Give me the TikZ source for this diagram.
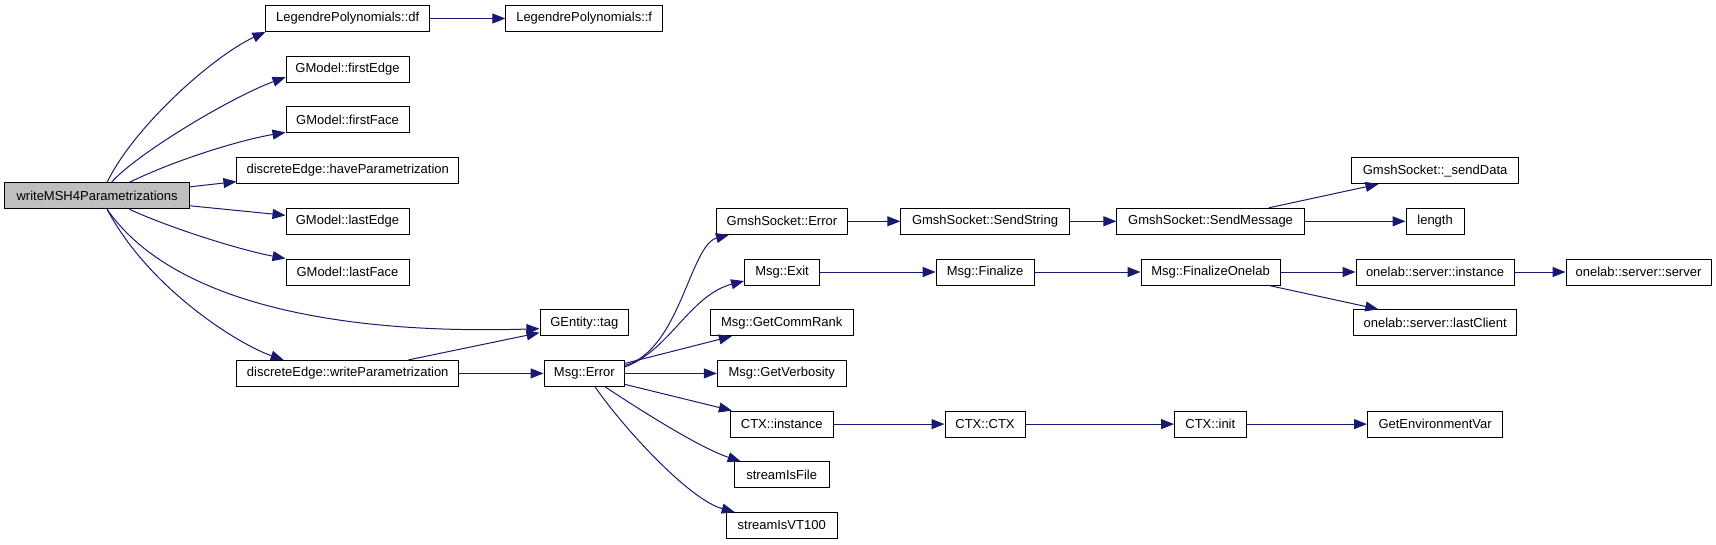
\documentclass[tikz,border=0pt]{standalone}
\usepackage{fontspec}
\setmainfont{Liberation Sans}
\usetikzlibrary{arrows.meta}
\definecolor{edgeblue}{HTML}{191970}
\definecolor{rootgray}{HTML}{BFBFBF}
\tikzset{
  fn/.style={draw=black, line width=1pt, rectangle, inner sep=0pt, minimum height=26pt, font=\fontsize{13}{16}\selectfont, text=black},
  rootfn/.style={fn, fill=rootgray},
  call/.style={draw=edgeblue, line width=1pt, -{Triangle[length=13pt,width=10pt]}}
}
\begin{document}
\begin{tikzpicture}[x=1pt,y=-1pt]
\useasboundingbox (0,0) rectangle (1716,544);
% nodes
\node[rootfn, minimum width=185pt] (root) at (97.1,195.8) {writeMSH4Parametrizations};
\node[fn, minimum width=163.5pt] (ldf) at (347.7,18.5) {LegendrePolynomials::df};
\node[fn, minimum width=156.7pt] (lf) at (584.2,18.5) {LegendrePolynomials::f};
\node[fn, minimum width=123pt] (fE) at (347.5,69.2) {GModel::firstEdge};
\node[fn, minimum width=123pt] (fF) at (347.5,119.9) {GModel::firstFace};
\node[fn, minimum width=221.5pt] (hP) at (347.7,170.6) {discreteEdge::haveParametrization};
\node[fn, minimum width=123pt] (lE) at (347.5,221.3) {GModel::lastEdge};
\node[fn, minimum width=123pt] (lF) at (347.5,272) {GModel::lastFace};
\node[fn, minimum width=88.6pt] (tag) at (584.3,322.7) {GEntity::tag};
\node[fn, minimum width=221.5pt] (wP) at (347.7,373.4) {discreteEdge::writeParametrization};
\node[fn, minimum width=80.5pt] (err) at (584.3,373.4) {Msg::Error};
\node[fn, minimum width=130.8pt] (gsErr) at (781.9,221.3) {GmshSocket::Error};
\node[fn, minimum width=168.3pt] (gsSS) at (985,221.3) {GmshSocket::SendString};
\node[fn, minimum width=75pt] (exit) at (782.1,272) {Msg::Exit};
\node[fn, minimum width=97.8pt] (fin) at (985.1,272) {Msg::Finalize};
\node[fn, minimum width=142.7pt] (gcr) at (781.7,322.7) {Msg::GetCommRank};
\node[fn, minimum width=128.6pt] (gv) at (781.7,373.4) {Msg::GetVerbosity};
\node[fn, minimum width=102.6pt] (ctxi) at (781.7,424.1) {CTX::instance};
\node[fn, minimum width=80pt] (ctx) at (985,424.1) {CTX::CTX};
\node[fn, minimum width=94.6pt] (sif) at (781.7,474.8) {streamIsFile};
\node[fn, minimum width=110.7pt] (vt) at (781.7,525.5) {streamIsVT100};
\node[fn, minimum width=167.4pt] (sd) at (1435.1,170.6) {GmshSocket::\_sendData};
\node[fn, minimum width=187.4pt] (sm) at (1210.6,221.3) {GmshSocket::SendMessage};
\node[fn, minimum width=58.2pt] (len) at (1435.1,221.3) {length};
\node[fn, minimum width=139pt] (fo) at (1210.5,272) {Msg::FinalizeOnelab};
\node[fn, minimum width=158pt] (osi) at (1435,272) {onelab::server::instance};
\node[fn, minimum width=145pt] (oss) at (1638.5,272) {onelab::server::server};
\node[fn, minimum width=162.7pt] (olc) at (1435.1,322.7) {onelab::server::lastClient};
\node[fn, minimum width=71.4pt] (init) at (1210.3,424.1) {CTX::init};
\node[fn, minimum width=135.2pt] (gev) at (1435.1,424.1) {GetEnvironmentVar};
% root edges
\draw[call] ([xshift=10]root.north) .. controls (135,125) and (215,55) .. (ldf.south west);
\draw[call] ([xshift=14.5]root.north) .. controls (135,155) and (230,97.6) .. ([yshift=-8]fE.west);
\draw[call] ([xshift=32.4]root.north) .. controls (175,160) and (240,140) .. ([yshift=1]fF.south west);
\draw[call] ([yshift=9]root.east) -- ([yshift=-11]hP.west);
\draw[call] ([yshift=-10]root.east) -- ([yshift=6]lE.west);
\draw[call] ([xshift=32.4]root.south) .. controls (170,228) and (240,250) .. (lF.north west);
\draw[call] ([xshift=10]root.south) .. controls (170,300) and (330,335) .. ([yshift=-6]tag.west);
\draw[call] ([xshift=10]root.south) .. controls (150,290) and (240,345) .. ([xshift=-64]wP.north);
% second level
\draw[call] (ldf.east) -- (lf.west);
\draw[call] ([xshift=60.7]wP.north) -- ([yshift=-10]tag.west);
\draw[call] (wP.east) -- (err.west);
% Msg::Error edges
\draw[call] ([yshift=8]err.east) .. controls (680,350) and (690,245) .. ([xshift=13]gsErr.south west);
\draw[call] ([yshift=6.5]err.east) .. controls (670,350) and (690,295) .. ([yshift=-9]exit.west);
\draw[call] ([yshift=10]err.east) -- ([xshift=22]gcr.south west);
\draw[call] (err.east) -- (gv.west);
\draw[call] ([yshift=-11]err.east) -- ([xshift=2]ctxi.north west);
\draw[call] ([xshift=21]err.south) .. controls (640,410) and (700,448) .. ([xshift=-41]sif.north);
\draw[call] ([xshift=10.8]err.south) .. controls (625,430) and (690,500) .. ([xshift=-47]vt.north);
% chains
\draw[call] (gsErr.east) -- (gsSS.west);
\draw[call] (gsSS.east) -- (sm.west);
\draw[call] (exit.east) -- (fin.west);
\draw[call] (fin.east) -- (fo.west);
\draw[call] (ctxi.east) -- (ctx.west);
\draw[call] (ctx.east) -- (init.west);
\draw[call] (init.east) -- (gev.west);
\draw[call] (sm.east) -- (len.west);
\draw[call] ([xshift=58.3]sm.north) -- ([xshift=27.6]sd.south west);
\draw[call] (fo.east) -- (osi.west);
\draw[call] (osi.east) -- (oss.west);
\draw[call] ([xshift=58.5]fo.south) -- ([xshift=25]olc.north west);
\end{tikzpicture}
\end{document}
